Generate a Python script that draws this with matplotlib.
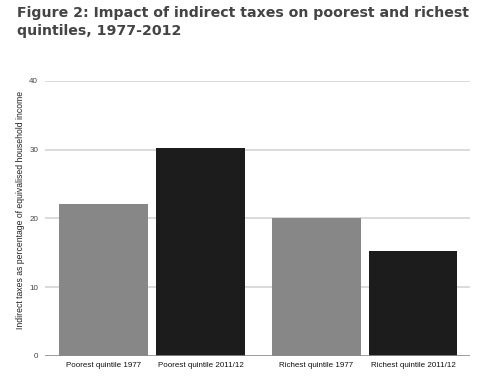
import matplotlib.pyplot as plt

plt.rcParams['font.family'] = ['Liberation Sans', 'DejaVu Sans']

categories = ["Poorest quintile 1977", "Poorest quintile 2011/12",
              "Richest quintile 1977", "Richest quintile 2011/12"]
values = [22.1, 30.2, 20.0, 15.2]
colors = ["#878787", "#1c1c1c", "#878787", "#1c1c1c"]
positions = [0, 1, 2.2, 3.2]
yticks = [0, 10, 20, 30, 40]

fig = plt.figure(figsize=(4.92, 3.77), dpi=100)
ax = fig.add_axes([45 / 492, 1 - 356 / 377, 425 / 492, (356 - 80.7) / 377])

ax.bar(positions, values, width=0.92, color=colors, zorder=3)

ax.set_xlim(-0.61, 3.79)
ax.set_ylim(0, 40)
ax.set_yticks(yticks)
ax.set_yticklabels([str(t) for t in yticks], fontsize=5.8, color="#444444")
ax.set_xticks(positions)
ax.set_xticklabels(categories, fontsize=5.8, color="#111111")
ax.tick_params(axis="both", length=0)
ax.tick_params(axis="y", pad=5)
ax.tick_params(axis="x", pad=4)

for t in yticks[1:]:
    ax.axhline(t, color="#d4d4d4", lw=1.2, zorder=1)
ax.axhline(0, color="#8c8c8c", lw=1.2, zorder=4)

for s in ax.spines.values():
    s.set_visible(False)

ax.set_ylabel("Indirect taxes as percentage of equivalised household income",
              fontsize=6.2, color="#222222")
ax.yaxis.set_label_coords(-0.047, 0.53)

fig.text(17 / 492, 1 - 6.5 / 377, "Figure 2: Impact of indirect taxes on poorest and richest\nquintiles, 1977-2012",
         fontsize=10.2, fontweight="bold", color="#444444", va="top", ha="left",
         linespacing=1.3, family="DejaVu Sans")

fig.savefig("out.png", dpi=100)
